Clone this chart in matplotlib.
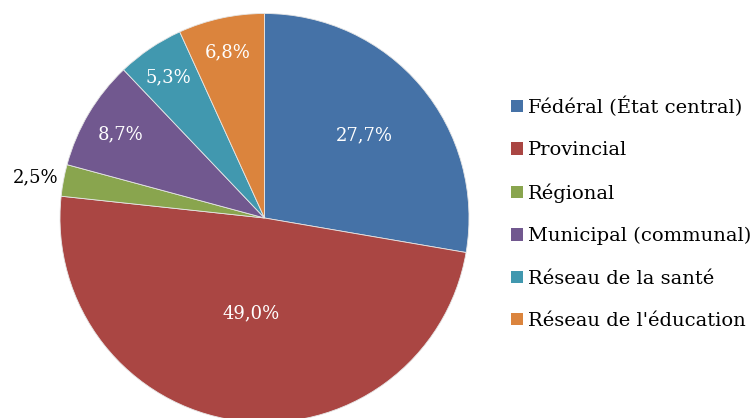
import numpy as np
import matplotlib.pyplot as plt
from matplotlib.patches import Patch

categories = ['Fédéral (État central)', 'Provincial', 'Régional',
              'Municipal (communal)', 'Réseau de la santé', "Réseau de l'éducation"]
shares = [27.7, 49.0, 2.5, 8.7, 5.3, 6.8]
colors = ['#4572A7', '#AA4643', '#89A54E', '#71588F', '#4198AF', '#DB843D']
# distance radiale des étiquettes (fraction du rayon) et couleur du texte
label_dist = [0.64, 0.46, 1.14, 0.82, 0.84, 0.84]
label_color = ['white', 'white', 'black', 'white', 'white', 'white']

W, H = 756, 418
cx, cy, r = 264.5, 218.0, 204.5   # centre et rayon en pixels

plt.rcParams['font.family'] = ['DejaVu Serif']

fig = plt.figure(figsize=(W / 100, H / 100), dpi=100)
ax = fig.add_axes([0, 0, 1, 1])

wedges, _ = ax.pie(shares, colors=colors, startangle=90, counterclock=False,
                   radius=1, wedgeprops=dict(edgecolor='#e6e6e6', linewidth=0.6))
ax.set_xlim(-cx / r, (W - cx) / r)
ax.set_ylim(-(H - cy) / r, cy / r)
ax.set_aspect('auto')
ax.axis('off')

for w, v, d, c in zip(wedges, shares, label_dist, label_color):
    ang = np.deg2rad((w.theta1 + w.theta2) / 2)
    txt = f'{v:.1f}%'.replace('.', ',')
    ax.text(d * np.cos(ang), d * np.sin(ang), txt, color=c, fontsize=13,
            ha='center', va='center_baseline')

handles = [Patch(facecolor=c, edgecolor='none') for c in colors]
fig.legend(handles, categories, loc='center left', bbox_to_anchor=(0.665, 0.49),
           frameon=False, fontsize=14, handlelength=0.62, handleheight=0.62,
           handletextpad=0.27, labelspacing=1.25, borderaxespad=0)

fig.savefig('out.png', dpi=100)
